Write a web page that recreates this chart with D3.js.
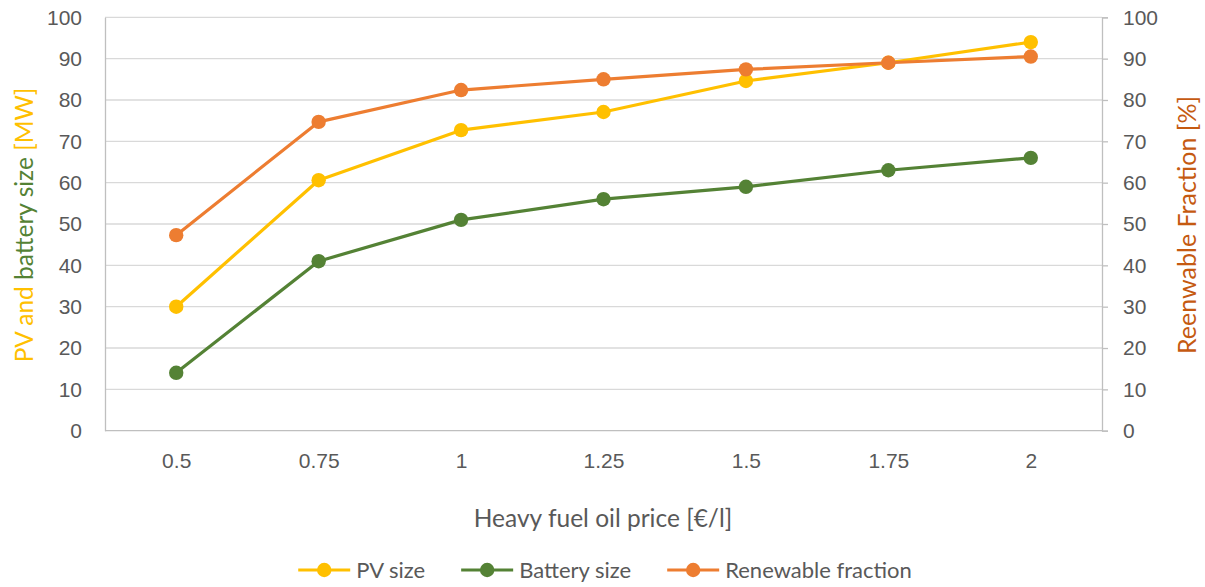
<!DOCTYPE html>
<html>
<head>
<meta charset="utf-8">
<script src="https://cdn.jsdelivr.net/npm/d3@7"></script>
<style>
  html, body { margin: 0; padding: 0; background: #fff; }
  svg { display: block; font-family: Lato, "Open Sans", sans-serif; }
</style>
</head>
<body>
<svg id="chart" width="1205" height="587"></svg>
<script>
// Heavy fuel oil price categories (€/l)
const fuelPrices = ["0.5", "0.75", "1", "1.25", "1.5", "1.75", "2"];
// Optimal PV size [MW]
const pvSize = [30, 60.6, 72.7, 77.1, 84.6, 89, 94];
// Optimal battery size [MW]
const batterySize = [14, 41, 51, 56, 59, 63, 66];
// Renewable fraction [%]
const renewableFraction = [47.3, 74.7, 82.4, 85, 87.4, 89, 90.5];
// Tick labels for both value axes
const valueTicks = [0, 10, 20, 30, 40, 50, 60, 70, 80, 90, 100];

const colors = { pv: "#FFC000", battery: "#548235", renewable: "#ED7D31" };

const svg = d3.select("#chart");
const plot = { left: 105, right: 1102, top: 17.3, bottom: 430.7 };

const x = d3.scalePoint().domain(fuelPrices).range([plot.left, plot.right]).padding(0.5);
const yLeft = d3.scaleLinear().domain([0, 100]).range([plot.bottom, plot.top]);
const yRight = d3.scaleLinear().domain([0, 100]).range([plot.bottom, plot.top]);

// Horizontal gridlines
svg.append("g")
  .selectAll("line")
  .data(valueTicks.filter(d => d > 0))
  .join("line")
  .attr("x1", plot.left).attr("x2", plot.right)
  .attr("y1", d => yLeft(d)).attr("y2", d => yLeft(d))
  .attr("stroke", "#d9d9d9").attr("stroke-width", 1.3);

// Left axis
const leftAxis = svg.append("g")
  .attr("transform", `translate(${plot.left},0)`)
  .call(d3.axisLeft(yLeft).tickValues(valueTicks).tickSize(0).tickPadding(23));
leftAxis.select(".domain").attr("stroke", "#bfbfbf").attr("stroke-width", 1.3);
leftAxis.selectAll("text").attr("fill", "#595959").style("font-size", "21px");

// Right axis
const rightAxis = svg.append("g")
  .attr("transform", `translate(${plot.right},0)`)
  .call(d3.axisRight(yRight).tickValues(valueTicks).tickSize(6).tickSizeOuter(6).tickPadding(15));
rightAxis.select(".domain").attr("stroke", "#bfbfbf").attr("stroke-width", 1.3);
rightAxis.selectAll(".tick line").attr("stroke", "#bfbfbf").attr("stroke-width", 1.3);
rightAxis.selectAll("text").attr("fill", "#595959").style("font-size", "21px");

// Bottom axis
const bottomAxis = svg.append("g")
  .attr("transform", `translate(0,${plot.bottom})`)
  .call(d3.axisBottom(x).tickSize(0).tickPadding(22));
bottomAxis.select(".domain").attr("stroke", "#bfbfbf").attr("stroke-width", 1.3)
  .attr("d", `M${plot.left},0H${plot.right}`);
bottomAxis.selectAll("text").attr("fill", "#595959").style("font-size", "21px");

// Axis titles
svg.append("text")
  .attr("x", 603).attr("y", 527)
  .attr("text-anchor", "middle")
  .attr("fill", "#595959").style("font-size", "24.5px")
  .text("Heavy fuel oil price [€/l]");

const leftTitle = svg.append("text")
  .attr("transform", "translate(33,225) rotate(-90)")
  .attr("text-anchor", "middle")
  .style("font-size", "24.5px");
leftTitle.append("tspan").attr("fill", colors.pv).text("PV and ");
leftTitle.append("tspan").attr("fill", colors.battery).text("battery size ");
leftTitle.append("tspan").attr("fill", colors.pv).text("[MW]");

svg.append("text")
  .attr("transform", "translate(1196,225) rotate(-90)")
  .attr("text-anchor", "middle")
  .attr("fill", "#C55A11")
  .style("font-size", "25px")
  .text("Reenwable Fraction [%]");

// Series
const series = [
  { name: "PV size", values: pvSize, color: colors.pv, scale: yLeft },
  { name: "Battery size", values: batterySize, color: colors.battery, scale: yLeft },
  { name: "Renewable fraction", values: renewableFraction, color: colors.renewable, scale: yRight }
];

const drawOrder = [series[1], series[0], series[2]];
drawOrder.forEach(s => {
  const line = d3.line().x((d, i) => x(fuelPrices[i])).y(d => s.scale(d));
  const g = svg.append("g");
  g.append("path")
    .attr("d", line(s.values))
    .attr("fill", "none")
    .attr("stroke", s.color)
    .attr("stroke-width", 3.2)
    .attr("stroke-linejoin", "round");
  g.selectAll("circle")
    .data(s.values)
    .join("circle")
    .attr("cx", (d, i) => x(fuelPrices[i]))
    .attr("cy", d => s.scale(d))
    .attr("r", 7.2)
    .attr("fill", s.color);
});

// Legend
const legend = svg.append("g").attr("transform", "translate(0,570)");
const items = legend.selectAll("g").data(series).join("g");
items.append("line")
  .attr("x1", 0).attr("x2", 52).attr("y1", 0).attr("y2", 0)
  .attr("stroke", d => d.color).attr("stroke-width", 3.2);
items.append("circle")
  .attr("cx", 26).attr("cy", 0).attr("r", 7.2)
  .attr("fill", d => d.color);
items.append("text")
  .attr("x", 58).attr("y", 0).attr("dy", "0.35em")
  .attr("fill", "#595959").style("font-size", "22px")
  .text(d => d.name);

let widths = [];
items.each(function() { widths.push(this.getBBox().width); });
const gap = 36;
const total = d3.sum(widths) + gap * (widths.length - 1);
let cursor = 605 - total / 2;
items.attr("transform", (d, i) => {
  const t = `translate(${cursor},0)`;
  cursor += widths[i] + gap;
  return t;
});
</script>
</body>
</html>
